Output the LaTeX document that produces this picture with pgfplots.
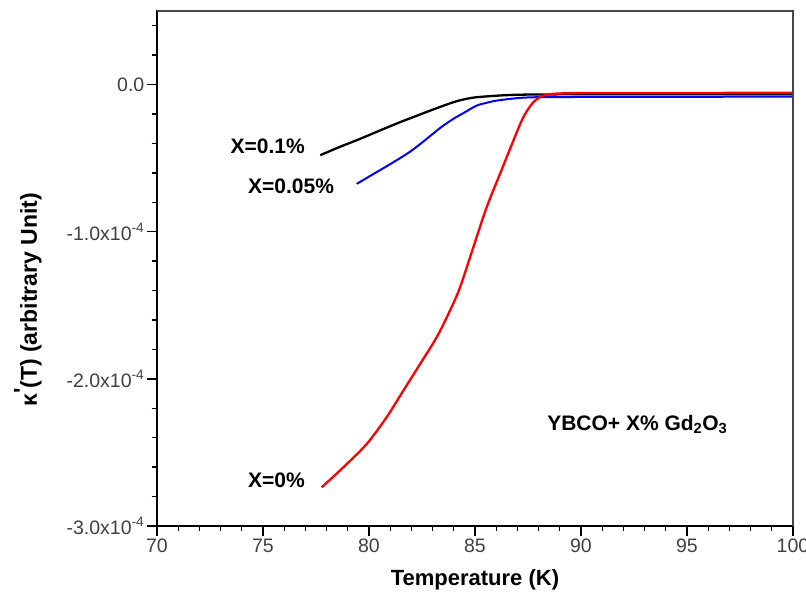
\documentclass[border=0pt]{standalone}
\usepackage{fontspec}
\setmainfont{Liberation Sans}
\usepackage{pgfplots}
\pgfplotsset{compat=1.18}
\definecolor{frame}{RGB}{70,70,80}

\begin{document}
\begin{tikzpicture}
\path[use as bounding box] (-157pt,-75pt) rectangle (649pt,526pt);
\begin{axis}[
    name=main,
    at={(0,0)}, anchor=south west,
    scale only axis,
    width=636pt, height=515pt,
    xmin=70, xmax=100,
    ymin=-3e-4, ymax=0.5e-4,
    xtick={70,75,...,100},
    minor x tick num=4,
    ytick={-3e-4,-2e-4,-1e-4,0},
    yticklabels={-3.0x10\textsuperscript{-4},-2.0x10\textsuperscript{-4},-1.0x10\textsuperscript{-4},0.0},
    minor ytick={-2.8e-4,-2.6e-4,-2.4e-4,-2.2e-4,-1.8e-4,-1.6e-4,-1.4e-4,-1.2e-4,-0.8e-4,-0.6e-4,-0.4e-4,-0.2e-4,0.2e-4,0.4e-4},
    scaled y ticks=false,
    /pgf/number format/assume math mode=true,
    tick align=outside,
    xtick pos=bottom,
    ytick pos=left,
    major tick length=10pt,
    minor tick length=5pt,
    axis line style={line width=1.4pt},
    every tick/.style={black, line width=1.3pt},
    tick label style={font=\fontsize{19.5}{22}\selectfont, text=black!75, inner sep=2.5pt},
    xlabel={\bfseries Temperature (K)},
    xlabel style={font=\fontsize{22}{26}\selectfont, at={(rel axis cs:0.5,-0.105)}, anchor=center},
    ylabel={\bfseries κ\raisebox{0.3em}{\textquotesingle}(T) (arbitrary Unit)},
    ylabel style={font=\fontsize{23}{27}\selectfont, at={(rel axis cs:-0.203,0.439)}, anchor=center},
    clip=false,
  ]
  % X=0.1%
  \addplot [black, line width=2.3pt, smooth] coordinates {
    (77.7,-0.48e-4) (78.6,-0.425e-4) (79.58,-0.369e-4) (80.5,-0.313e-4) (81.46,-0.256e-4)
    (82.2,-0.215e-4) (82.72,-0.186e-4) (83.3,-0.155e-4) (83.98,-0.12e-4) (84.5,-0.1e-4)
    (85.08,-0.086e-4) (86.34,-0.073e-4) (87.5,-0.068e-4) (90,-0.066e-4) (95,-0.066e-4) (100,-0.066e-4)
  };
  % X=0.05%
  \addplot [blue, line width=2pt, smooth] coordinates {
    (79.42,-0.675e-4) (80.3,-0.6e-4) (81.15,-0.528e-4) (82.0,-0.45e-4) (82.72,-0.369e-4)
    (83.4,-0.29e-4) (83.98,-0.233e-4) (84.5,-0.19e-4) (85.08,-0.143e-4) (85.6,-0.122e-4)
    (86.02,-0.109e-4) (86.8,-0.095e-4) (87.44,-0.088e-4) (88.5,-0.085e-4) (92,-0.084e-4) (100,-0.082e-4)
  };
  % X=0%
  \addplot [red, line width=2.3pt, smooth] coordinates {
    (77.77,-2.737e-4) (78.79,-2.601e-4) (79.89,-2.443e-4) (80.83,-2.261e-4) (81.62,-2.08e-4)
    (82.41,-1.899e-4) (83.19,-1.718e-4) (83.82,-1.536e-4) (84.29,-1.38e-4) (84.92,-1.106e-4)
    (85.55,-0.834e-4) (86.18,-0.607e-4) (86.81,-0.381e-4) (87.28,-0.222e-4) (87.75,-0.12e-4)
    (88.22,-0.075e-4) (88.69,-0.063e-4) (90,-0.058e-4) (95,-0.057e-4) (100,-0.056e-4)
  };
  \begin{scope}[every node/.style={font=\fontsize{21}{25}\selectfont\bfseries, inner sep=0pt}]
    \node[anchor=base east] at (axis cs:76.98,-0.469e-4) {X=0.1\%};
    \node[anchor=base west] at (axis cs:74.29,-0.741e-4) {X=0.05\%};
    \node[anchor=base west] at (axis cs:74.29,-2.74e-4) {X=0\%};
    \node[anchor=base west] at (axis cs:88.40,-2.352e-4) {YBCO+ X\% Gd\textsubscript{2}O\textsubscript{3}};
  \end{scope}
\end{axis}
% top and right frame lines
\draw[frame, line width=1.6pt] (main.north west) -- (main.north east) -- (main.south east);
\end{tikzpicture}
\end{document}
